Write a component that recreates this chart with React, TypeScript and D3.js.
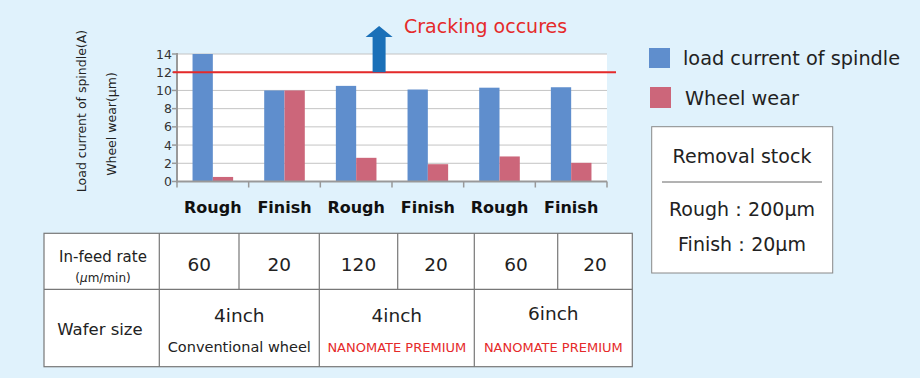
import React from "react";
import * as d3 from "d3";

const categories = ["Rough", "Finish", "Rough", "Finish", "Rough", "Finish"];
const loadCurrent = [14, 10, 10.5, 10.1, 10.3, 10.35];
const wheelWear = [0.5, 10, 2.6, 1.9, 2.75, 2.05];
const yTicks = [0, 2, 4, 6, 8, 10, 12, 14];
const crackLimit = 12;
const seriesNames = ["load current of spindle", "Wheel wear"];
const feedRates = ["60", "20", "120", "20", "60", "20"];
const waferSizes = ["4inch", "4inch", "6inch"];
const wheelNames = ["Conventional wheel", "NANOMATE PREMIUM", "NANOMATE PREMIUM"];
const removalLines = ["Rough\uFF1A200\u03BCm", "Finish\uFF1A20\u03BCm"];

const FONT = "'DejaVu Sans', Verdana, sans-serif";
const BG = "#e0f2fc";
const BLUE = "#5f8ecd";
const RED = "#cc667a";
const LINE_RED = "#e52a2a";

export default function App() {
  const W = 920, H = 378;
  const plotL = 177, plotR = 607, plotT = 54, plotB = 181.5;
  const x = d3.scaleBand<number>().domain(d3.range(categories.length)).range([plotL, plotR]);
  const inner = d3.scaleBand<string>().domain(seriesNames).range([0, 40.6]);
  const groupOff = (x.bandwidth() - 40.6) / 2;
  const y = d3.scaleLinear().domain([0, 14]).range([plotB, plotT]);

  const ax = (x(2) as number) + 0.82 * x.bandwidth();
  const aBase = y(crackLimit);
  const aTop = 26;
  const headB = 37;
  const arrowPath = `M${ax - 6.5},${aBase} L${ax - 6.5},${headB} L${ax - 13.5},${headB} L${ax},${aTop} L${ax + 13.5},${headB} L${ax + 6.5},${headB} L${ax + 6.5},${aBase} Z`;

  const colX = [44, 159.3, 239, 319.3, 397.7, 474.3, 557.7, 632.3];
  const rowY = [233.3, 289.3, 366.7];

  return (
    <svg width={W} height={H} style={{ position: "absolute", left: 0, top: 0, background: BG }} fontFamily={FONT}>
      <rect x={0} y={0} width={W} height={H} fill={BG} />
      <text transform={`translate(86,111) rotate(-90)`} textAnchor="middle" fontSize={12.5} fill="#222">Load current of spindle(A)</text>
      <text transform={`translate(116,124) rotate(-90)`} textAnchor="middle" fontSize={12.5} fill="#222">Wheel wear(μm)</text>
      <rect x={plotL} y={plotT} width={plotR - plotL} height={plotB - plotT} fill="#fff" />
      {yTicks.map((t) => (
        <g key={t}>
          <line x1={plotL} x2={plotR} y1={y(t)} y2={y(t)} stroke="#c4c4c4" strokeWidth={1} />
          <line x1={plotL - 5} x2={plotL} y1={y(t)} y2={y(t)} stroke="#999" strokeWidth={1.5} />
          <text x={plotL - 5} y={y(t) + 4.5} textAnchor="end" fontSize={12.5} fill="#333">{t}</text>
        </g>
      ))}
      {categories.map((c, i) => (
        <g key={i}>
          <rect x={(x(i) as number) + groupOff + (inner(seriesNames[0]) as number)} y={y(loadCurrent[i])}
            width={inner.bandwidth()} height={plotB - y(loadCurrent[i])} fill={BLUE} />
          <rect x={(x(i) as number) + groupOff + (inner(seriesNames[1]) as number)} y={y(wheelWear[i])}
            width={inner.bandwidth()} height={plotB - y(wheelWear[i])} fill={RED} />
          <text x={(x(i) as number) + x.bandwidth() / 2} y={213} textAnchor="middle" fontSize={16} fontWeight="bold" fill="#111">{c}</text>
        </g>
      ))}
      <line x1={plotL} x2={plotL} y1={plotT - 1} y2={plotB + 1} stroke="#999" strokeWidth={2} />
      <line x1={plotL - 1} x2={plotR} y1={plotB} y2={plotB} stroke="#999" strokeWidth={2} />
      {d3.range(categories.length + 1).map((i) => {
        const xx = plotL + i * x.bandwidth();
        return <line key={i} x1={xx} x2={xx} y1={plotB} y2={plotB + 6} stroke="#999" strokeWidth={1.5} />;
      })}
      <line x1={plotL - 4} x2={plotR + 9} y1={y(crackLimit)} y2={y(crackLimit)} stroke={LINE_RED} strokeWidth={2} />
      <path d={arrowPath} fill="#1a70b8" />
      <text x={404} y={33} fontSize={19} fill={LINE_RED}>Cracking occures</text>
      <rect x={649} y={48} width={21} height={20} fill={BLUE} />
      <text x={683} y={65} fontSize={19.3} fill="#222">{seriesNames[0]}</text>
      <rect x={650} y={87} width={21} height={21} fill={RED} />
      <text x={685} y={105} fontSize={19.3} fill="#222">{seriesNames[1]}</text>
      <rect x={651.7} y={126.7} width={181} height={146.3} fill="#fff" stroke="#888" strokeWidth={1} />
      <text x={742} y={163} textAnchor="middle" fontSize={19} fill="#222">Removal stock</text>
      <line x1={662} x2={822} y1={182} y2={182} stroke="#666" strokeWidth={1} />
      {removalLines.map((t, i) => (
        <text key={i} x={742} y={216 + i * 35} textAnchor="middle" fontSize={19} fill="#222">{t}</text>
      ))}
      <rect x={colX[0]} y={rowY[0]} width={colX[7] - colX[0]} height={rowY[2] - rowY[0]} fill="#fff" stroke="#777" strokeWidth={1.2} />
      <line x1={colX[0]} x2={colX[7]} y1={rowY[1]} y2={rowY[1]} stroke="#777" strokeWidth={1.2} />
      {[1, 3, 5].map((k) => (
        <line key={k} x1={colX[k]} x2={colX[k]} y1={rowY[0]} y2={rowY[2]} stroke="#777" strokeWidth={1.2} />
      ))}
      {[2, 4, 6].map((k) => (
        <line key={k} x1={colX[k]} x2={colX[k]} y1={rowY[0]} y2={rowY[1]} stroke="#777" strokeWidth={1.2} />
      ))}
      <text x={103} y={262} textAnchor="middle" fontSize={15} fill="#222">In-feed rate</text>
      <text x={103} y={282} textAnchor="middle" fontSize={12} fill="#222">(<tspan fontStyle="italic">μ</tspan>m/min)</text>
      {feedRates.map((f, i) => (
        <text key={i} x={(colX[i + 1] + colX[i + 2]) / 2} y={271} textAnchor="middle" fontSize={18.5} fill="#222">{f}</text>
      ))}
      <text x={100} y={335} textAnchor="middle" fontSize={16.5} fill="#222">Wafer size</text>
      {waferSizes.map((w, i) => {
        const cx = (colX[1 + 2 * i] + colX[3 + 2 * i]) / 2;
        return (
          <g key={i}>
            <text x={cx} y={i === 2 ? 320 : 322} textAnchor="middle" fontSize={18.5} fill="#222">{w}</text>
            <text x={cx} y={352} textAnchor="middle" fontSize={i === 0 ? 14.5 : 13} fill={i === 0 ? "#222" : LINE_RED}>{wheelNames[i]}</text>
          </g>
        );
      })}
    </svg>
  );
}
